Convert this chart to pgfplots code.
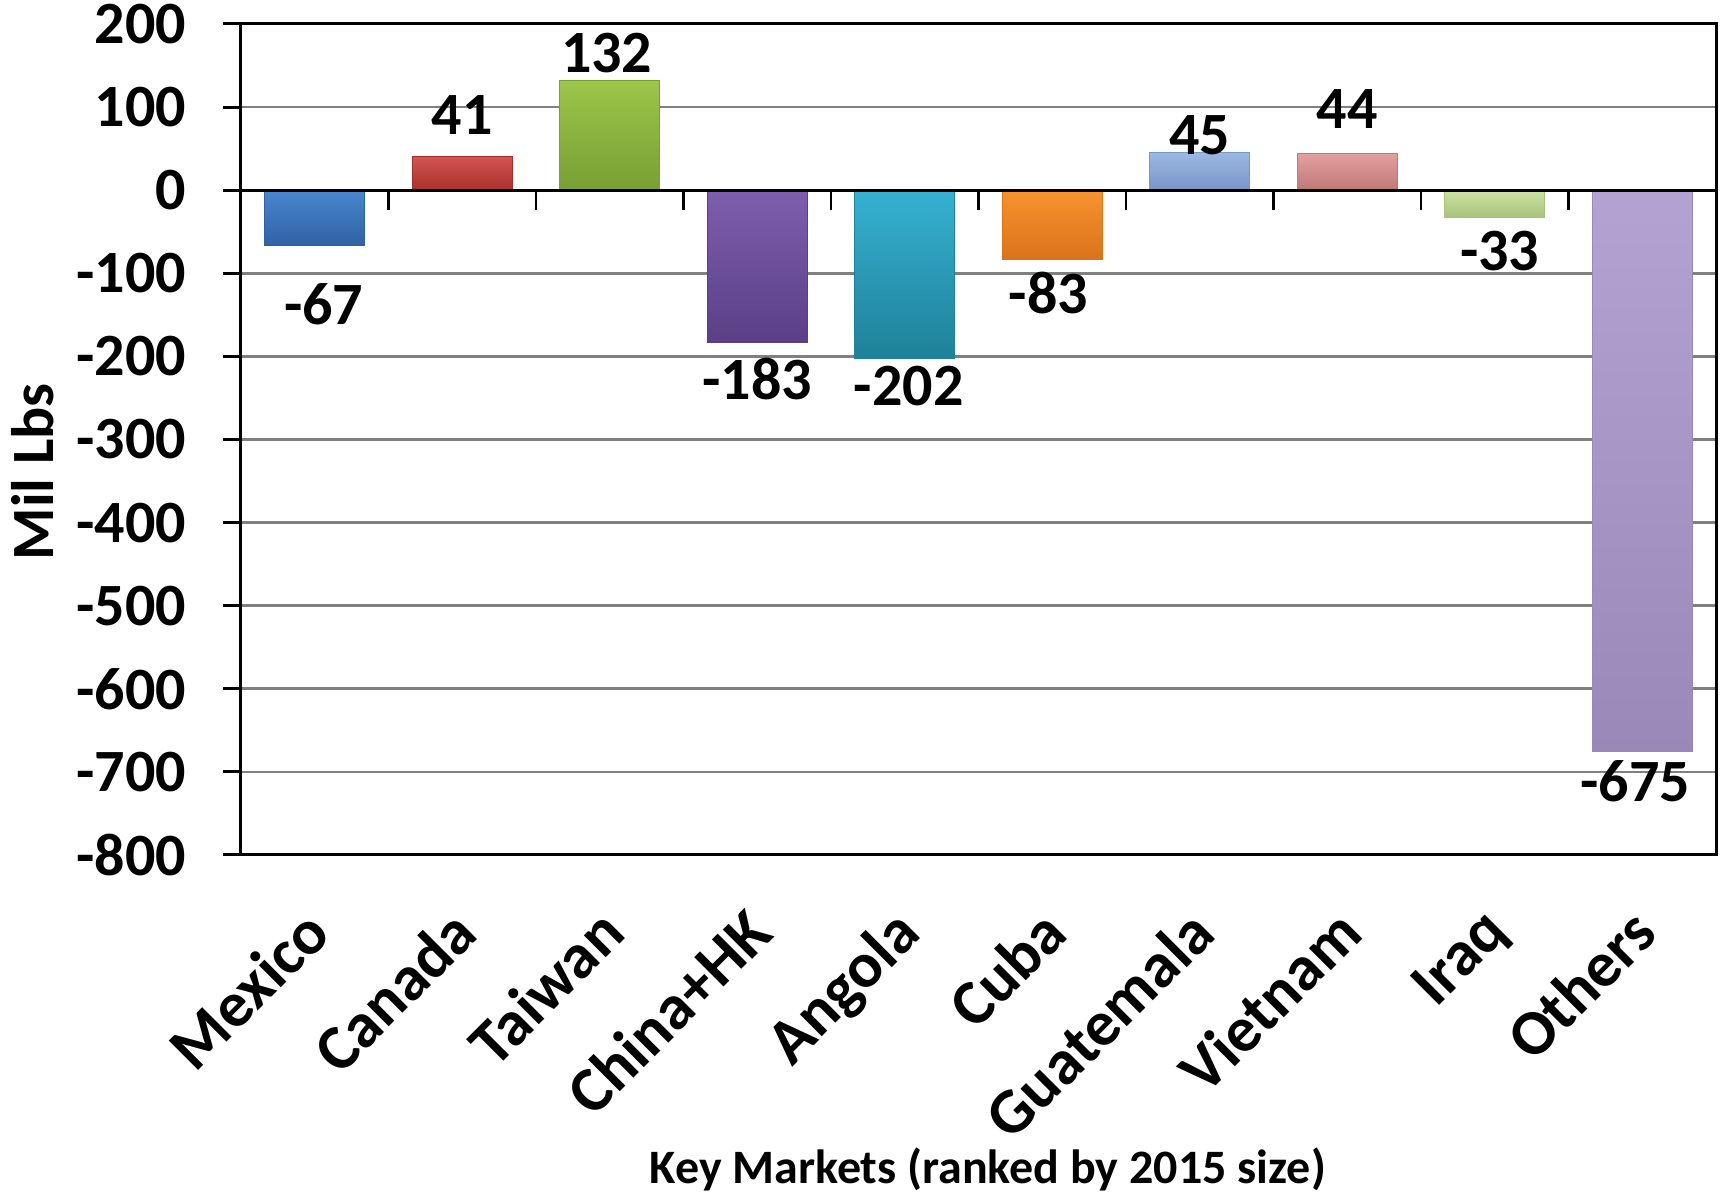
\documentclass[border=0pt]{standalone}
\usepackage{pgfplots}
\pgfplotsset{compat=1.18}
\usepackage{fontspec}
\setmainfont{Carlito}
\definecolor{cMexT}{HTML}{4A86CF}\definecolor{cMexB}{HTML}{2F62A3}
\definecolor{cCanT}{HTML}{D45550}\definecolor{cCanB}{HTML}{A8302C}
\definecolor{cTaiT}{HTML}{9CC64A}\definecolor{cTaiB}{HTML}{789F33}
\definecolor{cChiT}{HTML}{7E5EAE}\definecolor{cChiB}{HTML}{5A3F86}
\definecolor{cAngT}{HTML}{36B1D2}\definecolor{cAngB}{HTML}{1F8199}
\definecolor{cCubT}{HTML}{F7932E}\definecolor{cCubB}{HTML}{D9731C}
\definecolor{cGuaT}{HTML}{9BB8E3}\definecolor{cGuaB}{HTML}{7895C7}
\definecolor{cVieT}{HTML}{E2A09F}\definecolor{cVieB}{HTML}{C07876}
\definecolor{cIraT}{HTML}{CCE2A4}\definecolor{cIraB}{HTML}{A8C27A}
\definecolor{cOthT}{HTML}{B3A3D2}\definecolor{cOthB}{HTML}{9A88B8}
\begin{document}
\begin{tikzpicture}
\useasboundingbox (-120.5pt,-168.5pt) rectangle (740pt,427.5pt);
\begin{axis}[
  at={(0pt,0pt)}, anchor=south west,
  scale only axis, width=737.5pt, height=415.5pt,
  ybar,
  xmin=-0.5, xmax=9.5, ymin=-800, ymax=200,
  xtick={0,...,9},
  xticklabels={Mexico,Canada,Taiwan,China+HK,Angola,Cuba,Guatemala,Vietnam,Iraq,Others},
  ytick={-800,-700,...,200},
  yticklabels={-800,-700,-600,-500,-400,-300,-200,-100,0,100,200},
  /pgf/number format/assume math mode=true,
  axis line style={black, line width=1.5pt},
  ymajorgrids, major grid style={gray, line width=1.3pt},
  tick align=outside, major tick length=9pt,
  ytick style={black, line width=1.5pt},
  xtick style={draw=none},
  xtick pos=left, ytick pos=left,
  yticklabel style={font=\bfseries\fontsize{30}{36}\selectfont, xshift=-15pt},
  xticklabel style={font=\bfseries\fontsize{32}{38}\selectfont, xshift=-7pt, yshift=-11pt, rotate=45, anchor=north east},
  ylabel={Mil Lbs},
  ylabel style={font=\bfseries\fontsize{30}{36}\selectfont, at={(axis description cs:-0.141,0.461)}, anchor=center},
  xlabel={Key Markets (ranked by 2015 size)},
  xlabel style={font=\bfseries\fontsize{24}{29}\selectfont, at={(axis description cs:0.5064,-0.378)}, anchor=center},
  nodes near coords,
  every node near coord/.append style={font=\bfseries\fontsize{30}{36}\selectfont, anchor=center},
  bar width=50pt,
]
\addplot[bar shift=0pt, top color=cMexT, bottom color=cMexB, draw=cMexB, every node near coord/.append style={anchor=center, xshift=4.5pt, yshift=-29pt}] coordinates {(0,-67)};
\addplot[bar shift=0pt, top color=cCanT, bottom color=cCanB, draw=cCanB, every node near coord/.append style={anchor=center, yshift=20.5pt}] coordinates {(1,41)};
\addplot[bar shift=0pt, top color=cTaiT, bottom color=cTaiB, draw=cTaiB, every node near coord/.append style={anchor=center, xshift=-1.5pt, yshift=13.5pt}] coordinates {(2,132)};
\addplot[bar shift=0pt, top color=cChiT, bottom color=cChiB, draw=cChiB, every node near coord/.append style={anchor=center, yshift=-18.5pt}] coordinates {(3,-183)};
\addplot[bar shift=0pt, top color=cAngT, bottom color=cAngB, draw=cAngB, every node near coord/.append style={anchor=center, xshift=2pt, yshift=-14pt}] coordinates {(4,-202)};
\addplot[bar shift=0pt, top color=cCubT, bottom color=cCubB, draw=cCubB, every node near coord/.append style={anchor=center, xshift=-2pt, yshift=-17pt}] coordinates {(5,-83)};
\addplot[bar shift=0pt, top color=cGuaT, bottom color=cGuaB, draw=cGuaB, every node near coord/.append style={anchor=center, yshift=9pt}] coordinates {(6,45)};
\addplot[bar shift=0pt, top color=cVieT, bottom color=cVieB, draw=cVieB, every node near coord/.append style={anchor=center, yshift=22.5pt}] coordinates {(7,44)};
\addplot[bar shift=0pt, top color=cIraT, bottom color=cIraB, draw=cIraB, every node near coord/.append style={anchor=center, xshift=2.5pt, yshift=-16.5pt}] coordinates {(8,-33)};
\addplot[bar shift=0pt, top color=cOthT, bottom color=cOthB, draw=cOthB, every node near coord/.append style={anchor=center, xshift=-3.5pt, yshift=-15pt}] coordinates {(9,-675)};
\draw[black, line width=1.5pt] (axis cs:-0.5,0) -- (axis cs:9.5,0);
\pgfplotsinvokeforeach{0.5,1.5,...,8.5}{\draw[black, line width=1.3pt] (axis cs:#1,0) -- ++(0pt,-10pt);}
\end{axis}
\end{tikzpicture}
\end{document}
